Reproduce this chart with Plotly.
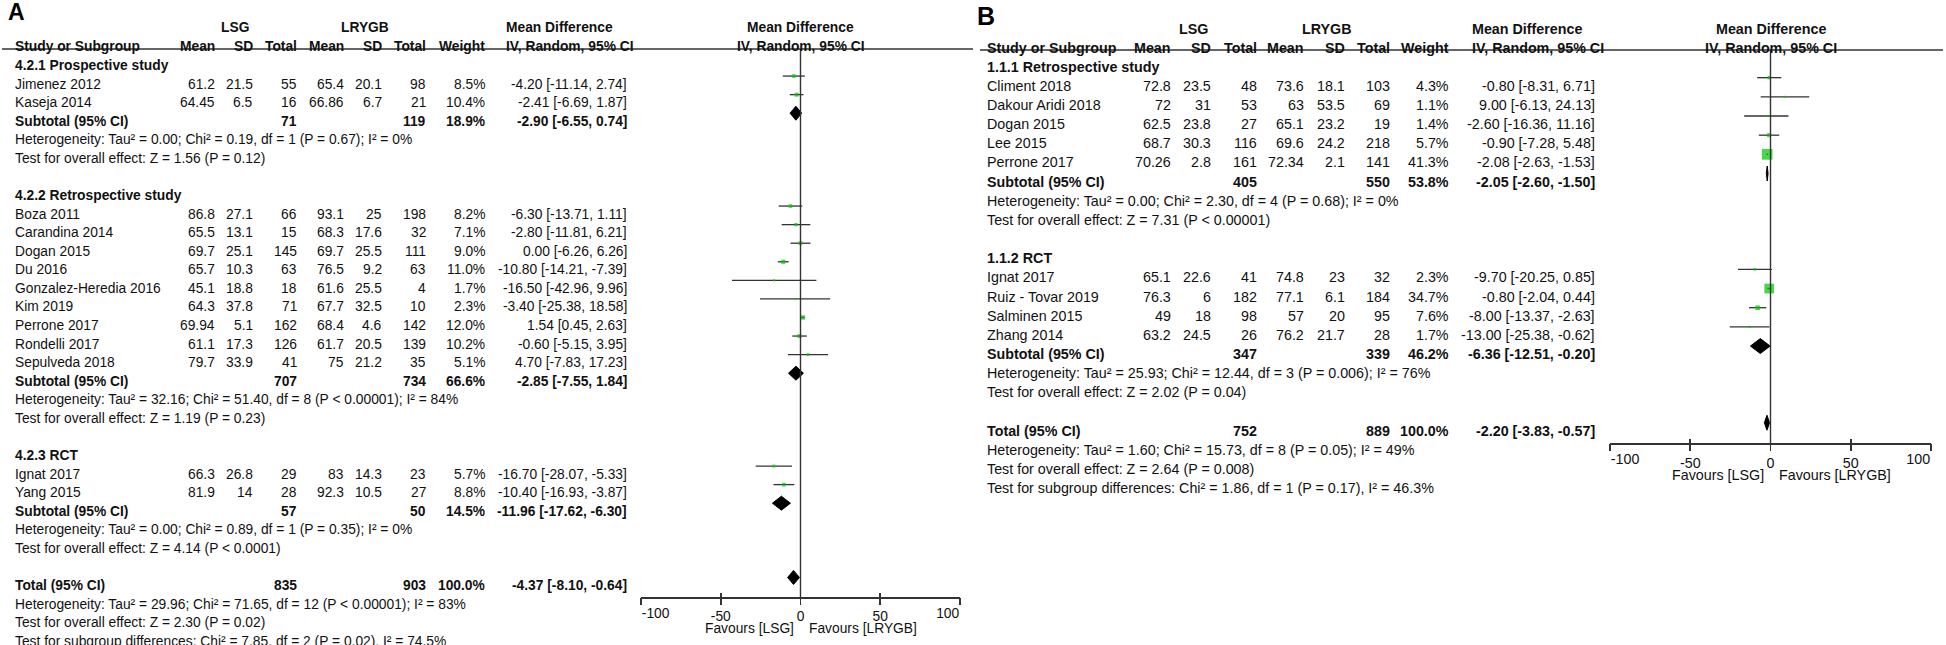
import math
import plotly.graph_objects as go

W, H = 1946, 645
FONT = "Liberation Sans, Arial, Helvetica, sans-serif"
INK = "#111111"
LINE = "#333333"
GREEN = "#00C400"

# ------------------------- DATA: panel A -------------------------
A_sub_names = ["4.2.1 Prospective study", "4.2.2 Retrospective study", "4.2.3 RCT"]
A_studies = ["Jimenez 2012", "Kaseja 2014", "Boza 2011", "Carandina 2014", "Dogan 2015", "Du 2016",
             "Gonzalez-Heredia 2016", "Kim 2019", "Perrone 2017", "Rondelli 2017", "Sepulveda 2018",
             "Ignat 2017", "Yang 2015"]
A_group = [0, 0, 1, 1, 1, 1, 1, 1, 1, 1, 1, 2, 2]
A_lsg_mean = [61.2, 64.45, 86.8, 65.5, 69.7, 65.7, 45.1, 64.3, 69.94, 61.1, 79.7, 66.3, 81.9]
A_lsg_sd = [21.5, 6.5, 27.1, 13.1, 25.1, 10.3, 18.8, 37.8, 5.1, 17.3, 33.9, 26.8, 14]
A_lsg_n = [55, 16, 66, 15, 145, 63, 18, 71, 162, 126, 41, 29, 28]
A_lrygb_mean = [65.4, 66.86, 93.1, 68.3, 69.7, 76.5, 61.6, 67.7, 68.4, 61.7, 75, 83, 92.3]
A_lrygb_sd = [20.1, 6.7, 25, 17.6, 25.5, 9.2, 25.5, 32.5, 4.6, 20.5, 21.2, 14.3, 10.5]
A_lrygb_n = [98, 21, 198, 32, 111, 63, 4, 10, 142, 139, 35, 23, 27]
A_weight = [8.5, 10.4, 8.2, 7.1, 9.0, 11.0, 1.7, 2.3, 12.0, 10.2, 5.1, 5.7, 8.8]
A_md = [-4.20, -2.41, -6.30, -2.80, 0.00, -10.80, -16.50, -3.40, 1.54, -0.60, 4.70, -16.70, -10.40]
A_lo = [-11.14, -6.69, -13.71, -11.81, -6.26, -14.21, -42.96, -25.38, 0.45, -5.15, -7.83, -28.07, -16.93]
A_hi = [2.74, 1.87, 1.11, 6.21, 6.26, -7.39, 9.96, 18.58, 2.63, 3.95, 17.23, -5.33, -3.87]
A_sub_n_lsg = [71, 707, 57]
A_sub_n_lrygb = [119, 734, 50]
A_sub_weight = [18.9, 66.6, 14.5]
A_sub_md = [-2.90, -2.85, -11.96]
A_sub_lo = [-6.55, -7.55, -17.62]
A_sub_hi = [0.74, 1.84, -6.30]
A_sub_het = ["Heterogeneity: Tau² = 0.00; Chi² = 0.19, df = 1 (P = 0.67); I² = 0%",
             "Heterogeneity: Tau² = 32.16; Chi² = 51.40, df = 8 (P < 0.00001); I² = 84%",
             "Heterogeneity: Tau² = 0.00; Chi² = 0.89, df = 1 (P = 0.35); I² = 0%"]
A_sub_z = ["Test for overall effect: Z = 1.56 (P = 0.12)",
           "Test for overall effect: Z = 1.19 (P = 0.23)",
           "Test for overall effect: Z = 4.14 (P < 0.0001)"]
A_total = dict(n_lsg=835, n_lrygb=903, weight=100.0, md=-4.37, lo=-8.10, hi=-0.64)
A_total_notes = ["Heterogeneity: Tau² = 29.96; Chi² = 71.65, df = 12 (P < 0.00001); I² = 83%",
                 "Test for overall effect: Z = 2.30 (P = 0.02)",
                 "Test for subgroup differences: Chi² = 7.85, df = 2 (P = 0.02), I² = 74.5%"]

# ------------------------- DATA: panel B -------------------------
B_sub_names = ["1.1.1 Retrospective study", "1.1.2 RCT"]
B_studies = ["Climent 2018", "Dakour Aridi 2018", "Dogan 2015", "Lee 2015", "Perrone 2017",
             "Ignat 2017", "Ruiz - Tovar 2019", "Salminen 2015", "Zhang 2014"]
B_group = [0, 0, 0, 0, 0, 1, 1, 1, 1]
B_lsg_mean = [72.8, 72, 62.5, 68.7, 70.26, 65.1, 76.3, 49, 63.2]
B_lsg_sd = [23.5, 31, 23.8, 30.3, 2.8, 22.6, 6, 18, 24.5]
B_lsg_n = [48, 53, 27, 116, 161, 41, 182, 98, 26]
B_lrygb_mean = [73.6, 63, 65.1, 69.6, 72.34, 74.8, 77.1, 57, 76.2]
B_lrygb_sd = [18.1, 53.5, 23.2, 24.2, 2.1, 23, 6.1, 20, 21.7]
B_lrygb_n = [103, 69, 19, 218, 141, 32, 184, 95, 28]
B_weight = [4.3, 1.1, 1.4, 5.7, 41.3, 2.3, 34.7, 7.6, 1.7]
B_md = [-0.80, 9.00, -2.60, -0.90, -2.08, -9.70, -0.80, -8.00, -13.00]
B_lo = [-8.31, -6.13, -16.36, -7.28, -2.63, -20.25, -2.04, -13.37, -25.38]
B_hi = [6.71, 24.13, 11.16, 5.48, -1.53, 0.85, 0.44, -2.63, -0.62]
B_sub_n_lsg = [405, 347]
B_sub_n_lrygb = [550, 339]
B_sub_weight = [53.8, 46.2]
B_sub_md = [-2.05, -6.36]
B_sub_lo = [-2.60, -12.51]
B_sub_hi = [-1.50, -0.20]
B_sub_het = ["Heterogeneity: Tau² = 0.00; Chi² = 2.30, df = 4 (P = 0.68); I² = 0%",
             "Heterogeneity: Tau² = 25.93; Chi² = 12.44, df = 3 (P = 0.006); I² = 76%"]
B_sub_z = ["Test for overall effect: Z = 7.31 (P < 0.00001)",
           "Test for overall effect: Z = 2.02 (P = 0.04)"]
B_total = dict(n_lsg=752, n_lrygb=889, weight=100.0, md=-2.20, lo=-3.83, hi=-0.57)
B_total_notes = ["Heterogeneity: Tau² = 1.60; Chi² = 15.73, df = 8 (P = 0.05); I² = 49%",
                 "Test for overall effect: Z = 2.64 (P = 0.008)",
                 "Test for subgroup differences: Chi² = 1.86, df = 1 (P = 0.17), I² = 46.3%"]

tick_vals = [-100, -50, 0, 50, 100]
tick_text = ["-100", "-50", "0", "50", "100"]

# ------------------------- LAYOUT CONFIG -------------------------
TEXT_SHIFT = -3.5  # px: moves annotation text down onto the row baseline
cfgA = dict(letter="A", letter_x=6, letter_y=12, letter_size=23,
            xa="x", ya="y", extra_x=["x3", "x5", "x7"], row0=62, row_h=18.57, fs=13.8,
            study=13, mean1=217, sd1=255, n1=299, mean2=346, sd2=384, n2=428, wt=487,
            md_left=504, md_right=629, lsg_c=235, lrygb_c=365, top_y=24, head_y=43,
            rule_y=49, rule_x=(2, 973), plot_x=(641, 960), axis_y=597, fav_y=628,
            mark_off=4.5, dia_h=7.0, k=1.25)
cfgB = dict(letter="B", letter_x=975, letter_y=16, letter_size=25,
            xa="x2", ya="y2", extra_x=["x4", "x6", "x8"], row0=63, row_h=19.17, fs=14.3,
            study=985, mean1=1173, sd1=1213, n1=1259, mean2=1306, sd2=1347, n2=1392, wt=1451,
            md_left=1470, md_right=1597, lsg_c=1193, lrygb_c=1327, top_y=25, head_y=44,
            rule_y=50, rule_x=(980, 1943), plot_x=(1610, 1931), axis_y=443, fav_y=475,
            mark_off=4.5, dia_h=7.5, k=1.66)

fig = go.Figure()
annotations = []
shapes = []


def fmt(v):
    return f"{v:g}"


def axname(ref):
    return ref[0] + "axis" + ref[1:]


def build(cfg, d):
    ya = cfg["ya"]
    xa = cfg["xa"]
    fs = cfg["fs"]

    def ry(py):
        return (py - cfg["row0"]) / cfg["row_h"]

    def txt(x_px, row, s, anchor="right", bold=False, xref="paper"):
        annotations.append(dict(
            x=x_px / W if xref == "paper" else x_px, xref=xref, y=row, yref=ya, yshift=TEXT_SHIFT,
            text=f"<b>{s}</b>" if bold else s, xanchor=anchor, yanchor="middle",
            showarrow=False, font=dict(family=FONT, size=fs, color=INK)))

    annotations.append(dict(x=cfg["letter_x"] / W, xref="paper", y=1 - cfg["letter_y"] / H, yref="paper",
                            text=f"<b>{cfg['letter']}</b>", xanchor="left", yanchor="middle",
                            showarrow=False, font=dict(family=FONT, size=cfg["letter_size"], color="#000")))
    top = ry(cfg["top_y"])
    head = ry(cfg["head_y"])
    txt(cfg["lsg_c"], top, "LSG", "center", True)
    txt(cfg["lrygb_c"], top, "LRYGB", "center", True)
    txt(cfg["md_left"], top, "Mean Difference", "left", True)
    txt(0, top, "Mean Difference", "center", True, xref=xa)
    txt(cfg["study"], head, "Study or Subgroup", "left", True)
    for key, lab in [("mean1", "Mean"), ("sd1", "SD"), ("n1", "Total"), ("mean2", "Mean"),
                     ("sd2", "SD"), ("n2", "Total"), ("wt", "Weight")]:
        txt(cfg[key], head, lab, "right", True)
    txt(cfg["md_left"], head, "IV, Random, 95% CI", "left", True)
    txt(0, head, "IV, Random, 95% CI", "center", True, xref=xa)

    shapes.append(dict(type="line", xref="paper", yref=ya, x0=cfg["rule_x"][0] / W, x1=cfg["rule_x"][1] / W,
                       y0=ry(cfg["rule_y"]), y1=ry(cfg["rule_y"]), line=dict(color=LINE, width=1.6)))
    shapes.append(dict(type="line", xref=xa, yref=ya, x0=0, x1=0,
                       y0=ry(cfg["rule_y"]), y1=ry(cfg["axis_y"]), line=dict(color=LINE, width=1.4)))

    off = cfg["mark_off"] / cfg["row_h"]
    dh = cfg["dia_h"] / cfg["row_h"]
    study_rows = [None] * len(d["studies"])
    dia_x, dia_y = [], []

    def diamond(row, md, lo, hi):
        yc = row - off
        dia_x.extend([lo, md, hi, md, lo, None])
        dia_y.extend([yc, yc - dh, yc, yc + dh, yc, None])

    def md_text(md, lo, hi):
        return f"{md:.2f} [{lo:.2f}, {hi:.2f}]"

    row = 0
    for g, name in enumerate(d["sub_names"]):
        txt(cfg["study"], row, name, "left", True)
        row += 1
        for k in range(len(d["studies"])):
            if d["group"][k] != g:
                continue
            txt(cfg["study"], row, d["studies"][k], "left")
            txt(cfg["mean1"], row, fmt(d["lsg_mean"][k]))
            txt(cfg["sd1"], row, fmt(d["lsg_sd"][k]))
            txt(cfg["n1"], row, str(d["lsg_n"][k]))
            txt(cfg["mean2"], row, fmt(d["lrygb_mean"][k]))
            txt(cfg["sd2"], row, fmt(d["lrygb_sd"][k]))
            txt(cfg["n2"], row, str(d["lrygb_n"][k]))
            txt(cfg["wt"], row, f"{d['weight'][k]:.1f}%")
            txt(cfg["md_right"], row, md_text(d["md"][k], d["lo"][k], d["hi"][k]))
            study_rows[k] = row
            row += 1
        txt(cfg["study"], row, "Subtotal (95% CI)", "left", True)
        txt(cfg["n1"], row, str(d["sub_n_lsg"][g]), "right", True)
        txt(cfg["n2"], row, str(d["sub_n_lrygb"][g]), "right", True)
        txt(cfg["wt"], row, f"{d['sub_weight'][g]:.1f}%", "right", True)
        txt(cfg["md_right"], row, md_text(d["sub_md"][g], d["sub_lo"][g], d["sub_hi"][g]), "right", True)
        diamond(row, d["sub_md"][g], d["sub_lo"][g], d["sub_hi"][g])
        row += 1
        txt(cfg["study"], row, d["sub_het"][g], "left")
        row += 1
        txt(cfg["study"], row, d["sub_z"][g], "left")
        row += 2
    t = d["total"]
    txt(cfg["study"], row, "Total (95% CI)", "left", True)
    txt(cfg["n1"], row, str(t["n_lsg"]), "right", True)
    txt(cfg["n2"], row, str(t["n_lrygb"]), "right", True)
    txt(cfg["wt"], row, f"{t['weight']:.1f}%", "right", True)
    txt(cfg["md_right"], row, md_text(t["md"], t["lo"], t["hi"]), "right", True)
    diamond(row, t["md"], t["lo"], t["hi"])
    for note in d["total_notes"]:
        row += 1
        txt(cfg["study"], row, note, "left")

    fig.add_trace(go.Scatter(
        x=d["md"], y=[r - off for r in study_rows], mode="markers", xaxis=xa, yaxis=ya,
        marker=dict(symbol="square", color=GREEN, line=dict(width=0),
                    size=[max(2.0, cfg["k"] * math.sqrt(w)) for w in d["weight"]]),
        error_x=dict(type="data", symmetric=False,
                     array=[h - m for h, m in zip(d["hi"], d["md"])],
                     arrayminus=[m - l for m, l in zip(d["md"], d["lo"])],
                     color=LINE, thickness=1.3, width=0),
        hoverinfo="skip", showlegend=False))
    fig.add_trace(go.Scatter(x=dia_x, y=dia_y, mode="lines", fill="toself", fillcolor="#000000",
                             line=dict(color="#000000", width=1), xaxis=xa, yaxis=ya,
                             hoverinfo="skip", showlegend=False))
    for ex in cfg["extra_x"]:
        fig.add_trace(go.Scatter(x=[None], y=[None], xaxis=ex, yaxis=ya, showlegend=False,
                                 hoverinfo="skip"))

    fav = ry(cfg["fav_y"])
    annotations.append(dict(x=0, xref=xa, y=fav, yref=ya, text="Favours [LSG]", xanchor="right",
                            xshift=-5, yanchor="middle", showarrow=False,
                            font=dict(family=FONT, size=fs, color=INK)))
    annotations.append(dict(x=0, xref=xa, y=fav, yref=ya, text="Favours [LRYGB]", xanchor="left",
                            xshift=6, yanchor="middle", showarrow=False,
                            font=dict(family=FONT, size=fs, color=INK)))

    dom = [cfg["plot_x"][0] / W, cfg["plot_x"][1] / W]
    pos = 1 - cfg["axis_y"] / H
    common = dict(range=[-100, 100], anchor="free", position=pos, automargin=False,
                  showgrid=False, zeroline=False, fixedrange=True,
                  tickfont=dict(family=FONT, size=fs, color=INK))
    ex_left, ex_right, ex_in = cfg["extra_x"]
    mid = [i for i in range(len(tick_vals)) if 0 < i < len(tick_vals) - 1]
    return {
        axname(xa): dict(domain=dom, showline=True, linecolor=LINE, linewidth=1.6, ticks="outside",
                         ticklen=6, tickwidth=1.6, tickcolor=LINE, tickvals=tick_vals,
                         ticktext=[tick_text[i] if i in mid else "" for i in range(len(tick_vals))],
                         **common),
        axname(ex_left): dict(overlaying=xa, showline=False, ticks="outside", ticklen=6, tickwidth=1.6,
                              tickcolor=LINE, tickvals=[tick_vals[0]], ticktext=[tick_text[0]],
                              ticklabelposition="outside right", ticklabelstandoff=3, **common),
        axname(ex_right): dict(overlaying=xa, showline=False, ticks="outside", ticklen=6, tickwidth=1.6,
                               tickcolor=LINE, tickvals=[tick_vals[-1]], ticktext=[tick_text[-1]],
                               ticklabelposition="outside left", ticklabelstandoff=3, **common),
        axname(ex_in): dict(overlaying=xa, showline=False, ticks="inside", ticklen=4, tickwidth=1.6,
                            tickcolor=LINE, tickvals=tick_vals, showticklabels=False, **common),
        axname(ya): dict(domain=[0, 1], range=[ry(H), ry(0)], visible=False, fixedrange=True,
                         automargin=False, anchor="free", position=0),
    }


dataA = dict(sub_names=A_sub_names, studies=A_studies, group=A_group, lsg_mean=A_lsg_mean,
             lsg_sd=A_lsg_sd, lsg_n=A_lsg_n, lrygb_mean=A_lrygb_mean, lrygb_sd=A_lrygb_sd,
             lrygb_n=A_lrygb_n, weight=A_weight, md=A_md, lo=A_lo, hi=A_hi,
             sub_n_lsg=A_sub_n_lsg, sub_n_lrygb=A_sub_n_lrygb, sub_weight=A_sub_weight,
             sub_md=A_sub_md, sub_lo=A_sub_lo, sub_hi=A_sub_hi, sub_het=A_sub_het, sub_z=A_sub_z,
             total=A_total, total_notes=A_total_notes)
dataB = dict(sub_names=B_sub_names, studies=B_studies, group=B_group, lsg_mean=B_lsg_mean,
             lsg_sd=B_lsg_sd, lsg_n=B_lsg_n, lrygb_mean=B_lrygb_mean, lrygb_sd=B_lrygb_sd,
             lrygb_n=B_lrygb_n, weight=B_weight, md=B_md, lo=B_lo, hi=B_hi,
             sub_n_lsg=B_sub_n_lsg, sub_n_lrygb=B_sub_n_lrygb, sub_weight=B_sub_weight,
             sub_md=B_sub_md, sub_lo=B_sub_lo, sub_hi=B_sub_hi, sub_het=B_sub_het, sub_z=B_sub_z,
             total=B_total, total_notes=B_total_notes)

axes = {}
axes.update(build(cfgA, dataA))
axes.update(build(cfgB, dataB))

fig.update_layout(
    template="none",
    width=W, height=H, autosize=False,
    margin=dict(l=0, r=0, t=0, b=0, pad=0, autoexpand=False),
    paper_bgcolor="white", plot_bgcolor="rgba(0,0,0,0)",
    showlegend=False, annotations=annotations, shapes=shapes,
    font=dict(family=FONT, color=INK),
    **axes)

fig.write_html("out.html", config={"displayModeBar": False, "staticPlot": True},
               post_script="document.body.style.margin='0';document.body.style.overflow='hidden';")
